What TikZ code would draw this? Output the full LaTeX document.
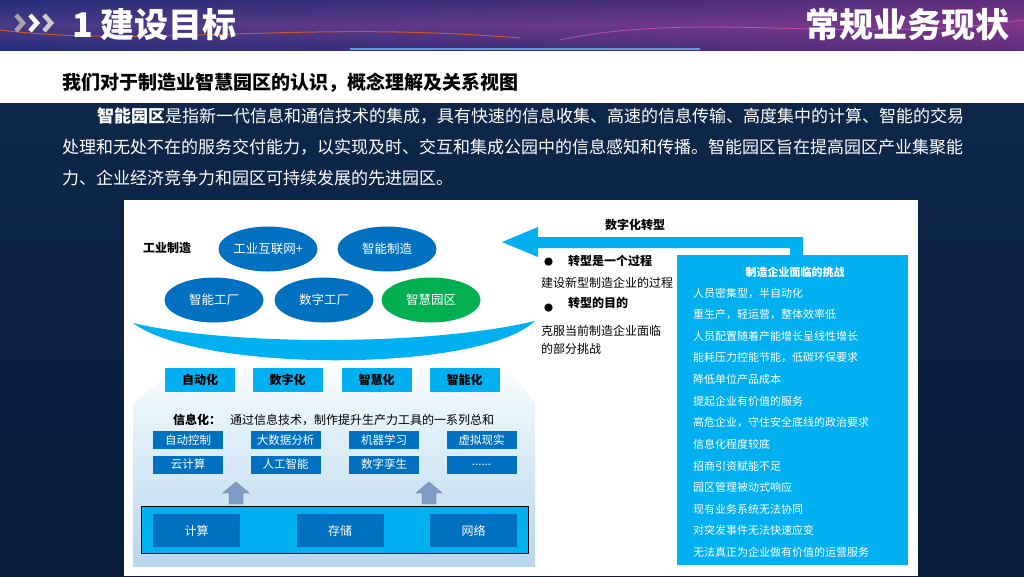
\documentclass[tikz,border=0pt]{standalone}
\usepackage{fontspec}
\setmainfont{Noto Sans CJK SC}
\usetikzlibrary{positioning,shapes.geometric}
\definecolor{dblue}{HTML}{0070C0}
\definecolor{lblue}{HTML}{00B0F0}
\definecolor{pgreen}{HTML}{00B050}
\definecolor{upblue}{HTML}{7F9CC6}
\definecolor{paleblue}{HTML}{B7D7EC}
\definecolor{iceblue}{HTML}{EAF5FB}
\definecolor{bgtop}{HTML}{0E2749}
\definecolor{bgbot}{HTML}{081B3A}
\definecolor{bnleft}{HTML}{25307A}
\definecolor{bnmid}{HTML}{D25DB8}
\definecolor{bnright}{HTML}{7A2C7E}
\tikzset{
	ell/.style={ellipse,fill=dblue,text=white,minimum width=99pt,minimum height=45pt,inner sep=0pt,font=\fontsize{12.5}{14}\selectfont},
	gell/.style={ell,fill=pgreen},
	lvl/.style={fill=lblue,minimum width=70pt,minimum height=24pt,inner sep=0pt,font=\fontsize{12}{14}\selectfont\bfseries},
	tool/.style={fill=dblue,text=white,minimum width=70pt,minimum height=18pt,inner sep=0pt,font=\fontsize{11.5}{13}\selectfont},
	base/.style={fill=dblue,text=white,minimum width=87pt,minimum height=33pt,inner sep=0pt,font=\fontsize{12}{14}\selectfont},
	txt/.style={anchor=west,inner sep=0pt,font=\fontsize{12}{14}\selectfont},
	btxt/.style={txt,font=\fontsize{12}{14}\selectfont\bfseries},
	item/.style={anchor=west,inner sep=0pt,text=white,font=\fontsize{11}{13}\selectfont},
	para/.style={anchor=west,inner sep=0pt,text=white,font=\fontsize{17}{20}\selectfont}
}

\begin{document}
\begin{tikzpicture}[x=1pt,y=-1pt]
	\useasboundingbox (0,0) rectangle (1024,576);
	\shade[top color=bgtop,bottom color=bgbot] (0,103) rectangle (1024,576);
	\fill[white] (0,50) rectangle (1024,103);
	\shade[left color=bnleft,middle color=bnmid,right color=bnright] (0,0) rectangle (1024,50);
	\shade[top color=bnleft,bottom color=bnleft,middle color=bnleft!40!bnmid,opacity=.35] (0,0) rectangle (1024,50);
	\draw[orange!80!red,line width=1pt,opacity=.7] (0,30) .. controls (150,48) and (300,20) .. (520,38);
	\draw[magenta!60,line width=.8pt,opacity=.6] (560,40) .. controls (700,10) and (850,45) .. (1024,20);
	\draw[cyan!60,line width=1.5pt,opacity=.7] (350,49) -- (700,49);
	\draw[gray!70,line width=4.5pt] (16,15) -- (23,23) -- (16,31);
	\draw[white,line width=4.5pt] (30,15) -- (37,23) -- (30,31);
	\draw[gray!40,line width=4.5pt] (44,15) -- (51,23) -- (44,31);
	\node[anchor=west,inner sep=0pt,text=white,font=\fontsize{34}{36}\selectfont\bfseries] (title) at (72,25) {1 建设目标};
	\node[anchor=east,inner sep=0pt,text=white,font=\fontsize{34}{36}\selectfont\bfseries] (status) at (1010,25) {常规业务现状};
	\node[anchor=west,inner sep=0pt,font=\fontsize{19}{21}\selectfont\bfseries] (subtitle) at (62,83) {我们对于制造业智慧园区的认识，概念理解及关系视图};

	\node[para] (p1) at (97,116) {\textbf{智能园区}是指新一代信息和通信技术的集成，具有快速的信息收集、高速的信息传输、高度集中的计算、智能的交易};
	\node[para] (p2) at (62,147) {处理和无处不在的服务交付能力，以实现及时、交互和集成公园中的信息感知和传播。智能园区旨在提高园区产业集聚能};
	\node[para] (p3) at (62,178) {力、企业经济竞争力和园区可持续发展的先进园区。};

	\fill[white] (124,200) rectangle (918,576);

	\node[btxt] (industry) at (143,248) {工业制造};
	\node[ell] (iiot) at (268,249) {工业互联网+};
	\node[ell] (smfg) at (387,249) {智能制造};
	\node[ell] (sfac) at (214,300) {智能工厂};
	\node[ell] (dfac) at (324,300) {数字工厂};
	\node[gell] (spark) at (431,300) {智慧园区};
	\fill[lblue] (133,323) .. controls (230,346) and (430,346) .. (535,321) .. controls (480,373) and (200,373) .. (133,323) -- cycle;

	\fill[lblue] (502,242) -- (538,227) -- (538,237) -- (803,237) -- (803,256) -- (790,256) -- (790,248) -- (538,248) -- (538,257) -- cycle;
	\node[btxt] (digital) at (605,225) {数字化转型};
	\node[anchor=west,inner sep=0pt,font=\fontsize{9}{10}\selectfont] (b1) at (544,262) {●};
	\node[btxt] (proc) at (568,261) {转型是一个过程};
	\node[txt] (proctxt) at (541,283) {建设新型制造企业的过程};
	\node[anchor=west,inner sep=0pt,font=\fontsize{9}{10}\selectfont] (b2) at (544,308) {●};
	\node[btxt] (goal) at (568,303) {转型的目的};
	\node[txt] (goal1) at (541,331) {克服当前制造企业面临};
	\node[txt] (goal2) at (541,349) {的部分挑战};

	\node[fill=lblue,minimum width=231pt,minimum height=310pt,inner sep=0pt] (chal) at (792.5,410) {};
	\node[inner sep=0pt,text=white,font=\fontsize{11}{13}\selectfont\bfseries] (chaltitle) at (795,272) {制造企业面临的挑战};
	\foreach \t [count=\i] in {人员密集型，半自动化,重生产，轻运营，整体效率低,人员配置随着产能增长呈线性增长,能耗压力控能节能，低碳环保要求,降低单位产品成本,提起企业有价值的服务,高危企业，守住安全底线的政治要求,信息化程度较底,招商引资赋能不足,园区管理被动式响应,现有业务系统无法协同,对突发事件无法快速应变,无法真正为企业做有价值的运营服务}
		\node[item] (c\i) at (693,{293+21.6*(\i-1)}) {\t};

	\shade[top color=white,bottom color=iceblue] (186,361) -- (502,361) -- (535,403) -- (133,403) -- cycle;
	\shade[top color=iceblue,bottom color=paleblue] (133,403) rectangle (535,566);
	\node[lvl] (auto) at (200,380) {自动化};
	\node[lvl] (digi) at (287.5,380) {数字化};
	\node[lvl] (wise) at (376.5,380) {智慧化};
	\node[lvl] (smart) at (464.5,380) {智能化};
	\node[btxt] (info) at (173,420) {信息化：};
	\node[txt] (infotxt) at (230,420) {通过信息技术，制作提升生产力工具的一系列总和};
	\node[tool] (t1) at (188,440) {自动控制};
	\node[tool] (t2) at (285.5,440) {大数据分析};
	\node[tool] (t3) at (384,440) {机器学习};
	\node[tool] (t4) at (481.5,440) {虚拟现实};
	\node[tool] (t5) at (188,464.5) {云计算};
	\node[tool] (t6) at (285.5,464.5) {人工智能};
	\node[tool] (t7) at (384,464.5) {数字孪生};
	\node[tool] (t8) at (481.5,464.5) {......};
	\foreach \x in {236,429}
		\draw[fill=upblue,draw=upblue!80!black] (\x-7,504) -- (\x-7,493) -- (\x-13,493) -- (\x,482) -- (\x+13,493) -- (\x+7,493) -- (\x+7,504) -- cycle;
	\node[draw=black,line width=1pt,fill=lblue,minimum width=387pt,minimum height=47pt,inner sep=0pt] (bar) at (334.5,529.5) {};
	\node[base] (compute) at (196.5,530.5) {计算};
	\node[base] (store) at (340,530.5) {存储};
	\node[base] (net) at (473.5,530.5) {网络};
\end{tikzpicture}
\end{document}
